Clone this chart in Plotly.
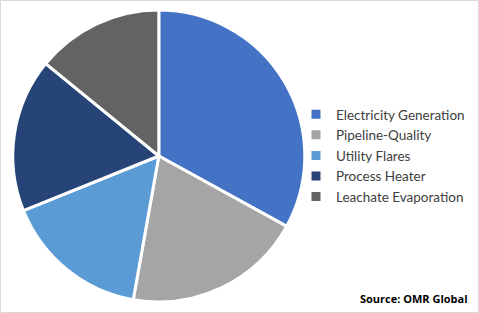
import plotly.graph_objects as go

labels = ["Electricity Generation", "Pipeline-Quality", "Utility Flares", "Process Heater", "Leachate Evaporation"]
values = [33.0, 19.8, 16.1, 17.0, 14.1]
colors = ["#4472C4", "#A5A5A5", "#5B9BD5", "#264478", "#636363"]

W, H = 479, 313
fig = go.Figure(go.Pie(
    labels=labels, values=values, sort=False, direction="clockwise", rotation=0,
    marker=dict(colors=colors, line=dict(color="white", width=3)),
    textinfo="none", hoverinfo="label+percent",
    domain=dict(x=[12.8 / W, 304.8 / W], y=[11 / H, 303 / H]),
))
fig.update_layout(
    width=W, height=H, margin=dict(l=0, r=0, t=0, b=0),
    paper_bgcolor="white", plot_bgcolor="white",
    font=dict(family="Open Sans", color="#404040"),
    legend=dict(x=296 / W, y=1 - 99 / H, xanchor="left", yanchor="top",
                font=dict(size=13.5, color="#404040", family="Lato"),
                itemwidth=30, tracegroupgap=0, bgcolor="rgba(0,0,0,0)"),
    annotations=[dict(text="<b>Source: OMR Global</b>", x=470 / W, y=1 - 298 / H,
                      xref="paper", yref="paper", xanchor="right", yanchor="middle",
                      showarrow=False, font=dict(size=11, color="black", family="Open Sans"))],
    shapes=[dict(type="rect", xref="paper", yref="paper", x0=0.5 / W, y0=0.5 / H,
                 x1=1 - 0.5 / W, y1=1 - 0.5 / H, line=dict(color="#D9D9D9", width=1))],
)
fig.write_html("out.html")
